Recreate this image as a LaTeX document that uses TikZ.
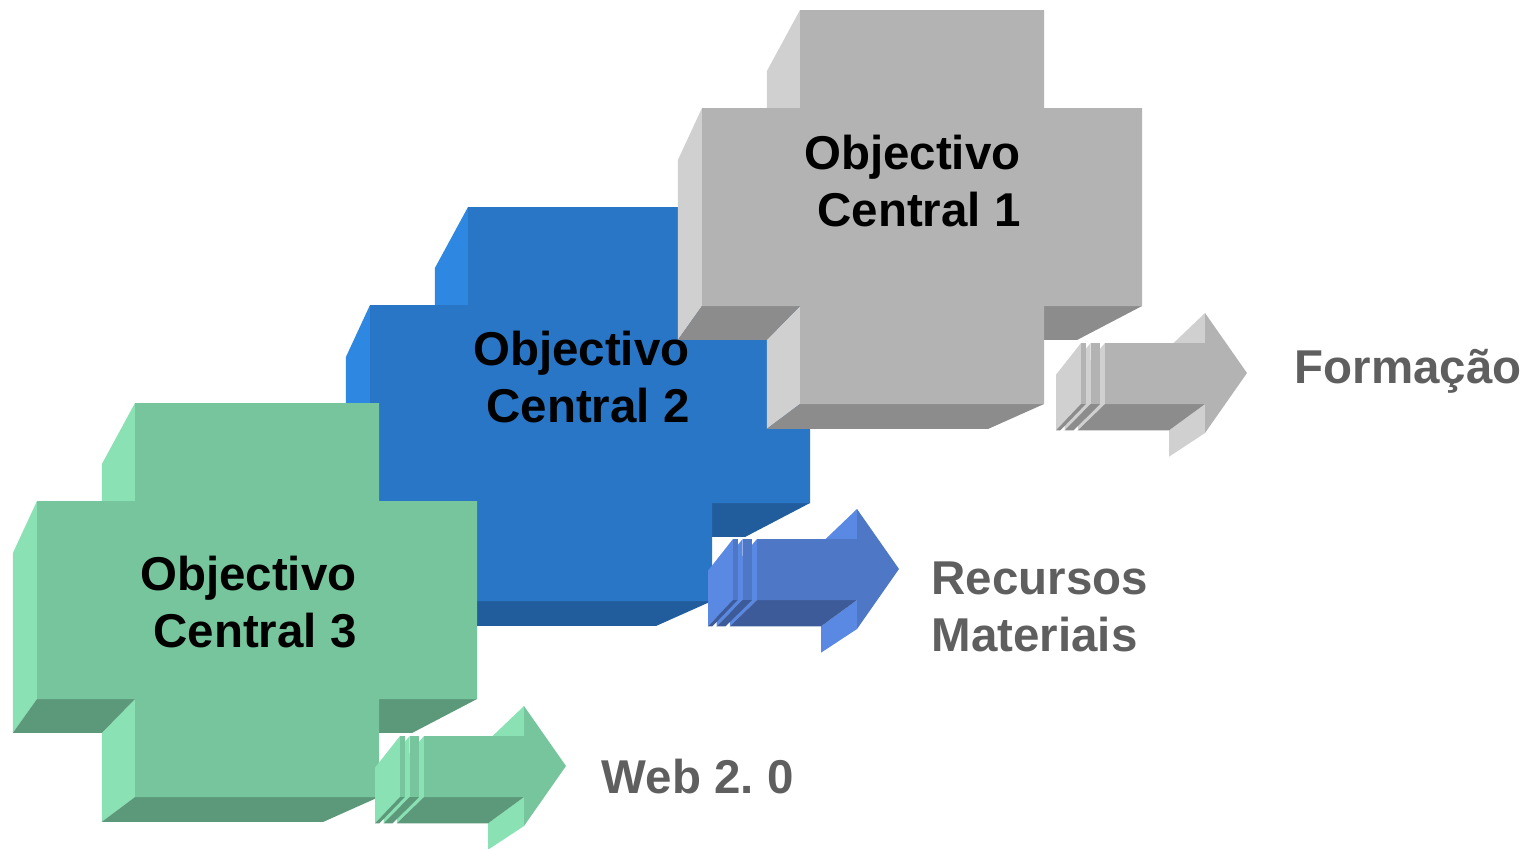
\documentclass[tikz,border=0pt]{standalone}
\usepackage{fontspec}
\setmainfont{Liberation Sans}

\definecolor{grayfront}{HTML}{B3B3B3}
\definecolor{grayside}{HTML}{D0D0D0}
\definecolor{graybase}{HTML}{8C8C8C}
\definecolor{bluefront}{HTML}{2976C6}
\definecolor{blueside}{HTML}{2E87E0}
\definecolor{bluebase}{HTML}{215D9D}
\definecolor{arrowfront}{HTML}{4E77C5}
\definecolor{arrowside}{HTML}{5A89E4}
\definecolor{arrowbase}{HTML}{3D5B99}
\definecolor{greenfront}{HTML}{77C59C}
\definecolor{greenside}{HTML}{89E1B4}
\definecolor{greenbase}{HTML}{5C997A}
\definecolor{labelgray}{HTML}{5F5F5F}

\begin{document}
\frenchspacing
\begin{tikzpicture}[x=0.01cm,y=-0.01cm,
  crosstext/.style={font=\fontsize{13.5}{16.2}\selectfont\bfseries,align=center,anchor=north,inner sep=0pt},
  labeltext/.style={font=\fontsize{13.5}{16.2}\selectfont\bfseries,text=labelgray,align=left,inner sep=0pt}]
\useasboundingbox (0,0) rectangle (1530,848);

% crosses, blue first since it sits behind
\foreach \ox/\oy/\colF/\colS/\colB in {370/207/bluefront/blueside/bluebase,702/10/grayfront/grayside/graybase,37/403/greenfront/greenside/greenbase} {
\begin{scope}[shift={(\ox,\oy)}]
\fill[\colS] (98,0) -- (98,98) -- (64.9,150) -- (64.9,61) -- cycle;
\fill[\colS] (0,98) -- (0,296) -- (-24.1,329.8) -- (-24.1,150) -- cycle;
\fill[\colS] (98,296) -- (98,394) -- (64.9,418.8) -- (64.9,329.8) -- cycle;
\fill[\colB] (0,296) -- (98,296) -- (64.9,329.8) -- (-24.1,329.8) -- cycle;
\fill[\colB] (342,296) -- (440,296) -- (375.4,329.8) -- (286.4,329.8) -- cycle;
\fill[\colB] (98,394) -- (342,394) -- (286.4,418.8) -- (64.9,418.8) -- cycle;
\fill[\colF] (98,0) -- (342,0) -- (342,98) -- (440,98) -- (440,296) -- (342,296) -- (342,394)
  -- (98,394) -- (98,296) -- (0,296) -- (0,98) -- (98,98) -- cycle;
\end{scope}
}

% striped arrows
\foreach \ax/\ay/\colF/\colS/\colB in {1081/313/grayfront/grayside/graybase,733/509/arrowfront/arrowside/arrowbase,400/706/greenfront/greenside/greenbase} {
\begin{scope}[shift={(\ax,\ay)}]
\fill[\colS] (24,30) -- (24,91) -- (-3.1,117.3) -- (-3.1,61.7) -- cycle;
\fill[\colS] (124,0) -- (124,30) -- (88,61.7) -- (88,34.4) -- cycle;
\fill[\colS] (124,91) -- (124,120) -- (88,143.7) -- (88,117.3) -- cycle;
\fill[\colB] (24,91) -- (124,91) -- (88,117.3) -- (-3.1,117.3) -- cycle;
\fill[\colF] (24,30) -- (124,30) -- (124,0) -- (166,60) -- (124,120) -- (124,91) -- (24,91) -- cycle;
% the two stripes, inner one first
\foreach \sl/\sr/\bl/\br in {9.6/19.2/-16.3/-7.5,0/4.8/-25/-20.6} {
  \fill[\colS] (\sl,30) -- (\sl,91) -- (\bl,117.3) -- (\bl,61.7) -- cycle;
  \fill[\colB] (\sl,91) -- (\sr,91) -- (\br,117.3) -- (\bl,117.3) -- cycle;
  \fill[\colF] (\sl,30) rectangle (\sr,91);
}
\end{scope}
}

\node[crosstext] (obj1) at (919,134.5) {Objectivo\hphantom{\ }\\Central 1};
\node[crosstext] (obj2) at (588,330.5) {Objectivo\hphantom{\ }\\Central 2};
\node[crosstext] (obj3) at (255,555.5) {Objectivo\hphantom{\ }\\Central 3};

\node[labeltext,anchor=base west] (formacao) at (1294,383) {Formação};
\node[labeltext,anchor=north west] (recursos) at (931,561) {Recursos\\Materiais};
\node[labeltext,anchor=base west] (web) at (601,793) {Web 2. 0};
\end{tikzpicture}
\end{document}
